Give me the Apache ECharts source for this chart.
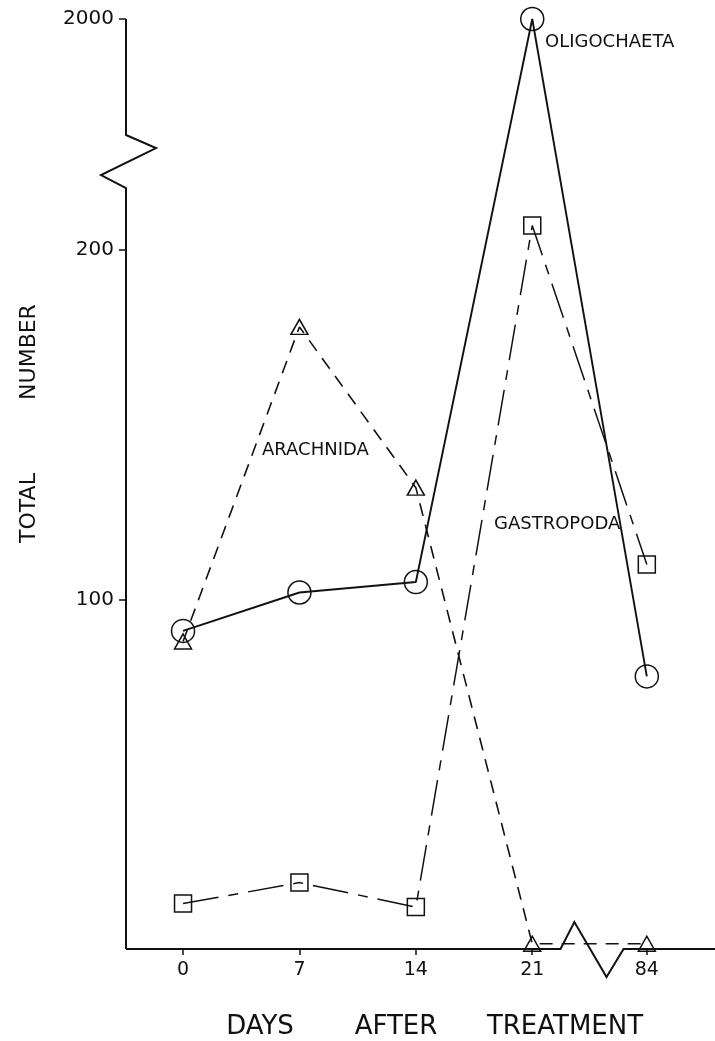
<!DOCTYPE html>
<html><head><meta charset="utf-8">
<script src="https://cdn.jsdelivr.net/npm/echarts@6/dist/echarts.min.js"></script>
<style>html,body{margin:0;padding:0;background:#fff}#c{width:715px;height:1041px}</style>
</head><body><div id="c"></div>
<script>
// ---- data ----
const days = [0, 7, 14, 21, 84];
const oligochaeta = [91, 102, 105, 2000, 78];
const arachnida = [88, 178, 132, 1.5, 1.5];
const gastropoda = [13, 19, 12, 207, 110];
const yTickValues = [100, 200, 2000];
const xTickValues = [0, 7, 14, 21, 84];
const seriesNames = ['OLIGOCHAETA', 'ARACHNIDA', 'GASTROPODA'];
const xTitleWords = ['DAYS', 'AFTER', 'TREATMENT'];
const yTitleWords = ['TOTAL', 'NUMBER'];

// axis extents and breaks (in data units)
const X_MIN = -3.43, X_MAX = 88.1;
const X_BREAK = { start: 22.7, end: 82.6, gap: 3.79 };
const Y_MIN = 0, Y_MAX = 2000;
const Y_BREAK = { start: 217.7, end: 1966.8, gap: 15.2 };

const FONT = 'DejaVu Sans';
const INK = '#111';

const chart = echarts.init(document.getElementById('c'), null, { renderer: 'canvas' });

function pts(vals) { return days.map((d, i) => [d, vals[i]]); }
const hollow = { color: 'rgba(255,255,255,0)', borderColor: INK, borderWidth: 1.5 };

chart.setOption({
  animation: false,
  backgroundColor: '#fff',
  grid: { left: 126, right: 0, top: 19, bottom: 92, outerBoundsMode: 'none', containLabel: false },
  xAxis: {
    type: 'value', min: X_MIN, max: X_MAX,
    breaks: [X_BREAK],
    breakArea: { show: false, expandOnClick: false, itemStyle: { opacity: 0, borderWidth: 0 } },
    axisLine: { show: false, onZero: false },
    splitLine: { show: false },
    axisTick: { show: true, length: 6, inside: false, customValues: xTickValues, lineStyle: { color: INK, width: 1.5 } },
    axisLabel: { show: true, customValues: xTickValues, margin: 12, fontFamily: FONT, fontSize: 19, color: INK, formatter: v => String(v) }
  },
  yAxis: {
    type: 'value', min: Y_MIN, max: Y_MAX,
    breaks: [Y_BREAK],
    breakArea: { show: false, expandOnClick: false, itemStyle: { opacity: 0, borderWidth: 0 } },
    axisLine: { show: false, onZero: false },
    splitLine: { show: false },
    axisTick: { show: true, length: 7, inside: false, customValues: yTickValues, lineStyle: { color: INK, width: 1.5 } },
    axisLabel: { show: true, customValues: yTickValues, margin: 12, fontFamily: FONT, fontSize: 20, color: INK, formatter: v => String(v) }
  },
  series: [
    {
      name: seriesNames[0], type: 'line', data: pts(oligochaeta),
      symbol: 'circle', symbolSize: 23, itemStyle: hollow,
      lineStyle: { color: INK, width: 1.9, type: 'solid' }, z: 3
    },
    {
      name: seriesNames[1], type: 'line', data: pts(arachnida),
      symbol: 'triangle', symbolSize: [17, 15], itemStyle: hollow,
      lineStyle: { color: INK, width: 1.6, type: [13, 9] }, z: 3
    },
    {
      name: seriesNames[2], type: 'line', data: pts(gastropoda),
      symbol: 'rect', symbolSize: [17, 17], itemStyle: hollow,
      lineStyle: { color: INK, width: 1.5, type: [36, 10, 10, 10] }, z: 3
    }
  ]
});

// ---- axis lines with break zigzags, computed from the library's scales ----
const P = (x, y) => chart.convertToPixel({ gridIndex: 0 }, [x, y]);
const x0 = P(X_MIN, Y_MIN)[0];
const xEnd = P(X_MAX, Y_MIN)[0];
const yBase = P(X_MIN, Y_MIN)[1];
const yTop = P(X_MIN, Y_MAX)[1];
const yBrkLo = P(X_MIN, Y_BREAK.start)[1];
const yBrkHi = P(X_MIN, Y_BREAK.end)[1];
const xBrkL = P(X_BREAK.start, Y_MIN)[0];
const xBrkR = P(X_BREAK.end, Y_MIN)[0];
const hY = yBrkLo - yBrkHi;
const wX = xBrkR - xBrkL;

const yAxisPts = [
  [x0, yBase], [x0, yBrkLo],
  [x0 - 25, yBrkHi + 0.755 * hY], [x0 + 30, yBrkHi + 0.245 * hY],
  [x0, yBrkHi], [x0, yTop]
];
const xAxisPts = [
  [x0, yBase], [xBrkL, yBase],
  [xBrkL + 0.22 * wX, yBase - 27], [xBrkL + 0.73 * wX, yBase + 28],
  [xBrkR, yBase], [xEnd, yBase]
];

const txt = (x, y, s, size, align, rot) => ({
  type: 'text', x: x, y: y, rotation: rot || 0,
  style: { text: s, fontFamily: FONT, fontSize: size, fill: INK, textAlign: align, textVerticalAlign: 'middle' }
});

chart.setOption({
  graphic: [
    { type: 'polyline', shape: { points: yAxisPts }, style: { stroke: INK, lineWidth: 2, fill: null }, z: 10 },
    { type: 'polyline', shape: { points: xAxisPts }, style: { stroke: INK, lineWidth: 2, fill: null }, z: 10 },
    txt(545, 42, seriesNames[0], 18, 'left'),
    txt(262, 450, seriesNames[1], 18, 'left'),
    txt(494, 524, seriesNames[2], 18, 'left'),
    txt(260, 1027, xTitleWords[0], 26, 'center'),
    txt(396, 1027, xTitleWords[1], 26, 'center'),
    txt(565, 1027, xTitleWords[2], 26, 'center'),
    txt(29, 508, yTitleWords[0], 22, 'center', Math.PI / 2),
    txt(29, 352, yTitleWords[1], 22, 'center', Math.PI / 2)
  ]
});
</script>
</body></html>
